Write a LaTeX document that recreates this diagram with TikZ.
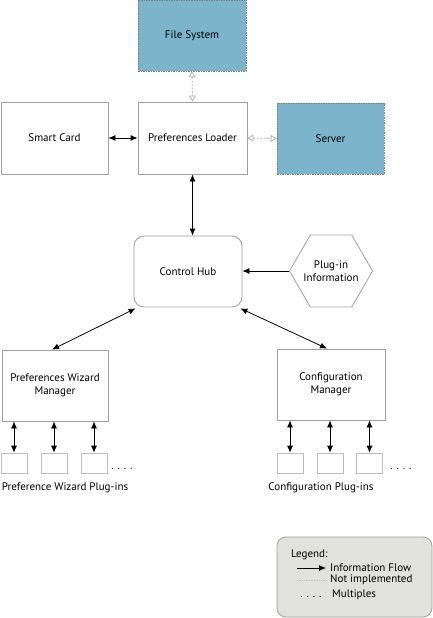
\documentclass[tikz,border=0pt]{standalone}
\usepackage{fontspec}
\setmainfont{PT Sans}
\usetikzlibrary{arrows.meta,shapes.geometric}
\definecolor{boxblue}{HTML}{7BB4CB}
\definecolor{legfill}{HTML}{E0E2DB}
\definecolor{edgegray}{HTML}{A0A0A0}
\begin{document}
\begin{tikzpicture}[x=1pt,y=-1pt,
  font=\fontsize{11}{13}\selectfont,
  plain/.style={draw=edgegray,line width=0.8pt,align=center,inner sep=0pt},
  notimpl/.style={draw=gray,dashed,dash pattern=on 1.5pt off 1pt,line width=0.6pt,fill=boxblue,align=center,inner sep=0pt},
  flow/.style={{Latex[length=7pt,width=6pt]}-{Latex[length=7pt,width=6pt]},line width=0.8pt},
  flowone/.style={-{Latex[length=7pt,width=6pt]},line width=0.8pt},
  niflow/.style={{Triangle[open,length=6pt,width=7pt]}-{Triangle[open,length=6pt,width=7pt]},draw=edgegray!80,dash pattern=on 2pt off 1.5pt,line width=0.8pt},
  plug/.style={draw=edgegray!70,line width=0.6pt,minimum width=26pt,minimum height=20pt,inner sep=0pt},
  dotsty/.style={inner sep=0pt}
]
\useasboundingbox (0,0) rectangle (433,618);
% top row
\node[notimpl,minimum width=108pt,minimum height=71pt] (fs) at (192,35.5) {File System};
\node[plain,minimum width=107pt,minimum height=72pt] (sc) at (54.5,138) {Smart Card};
\node[plain,minimum width=109pt,minimum height=72pt] (pl) at (192.5,138) {Preferences Loader};
\node[notimpl,minimum width=107pt,minimum height=71pt] (sv) at (330.5,138.5) {Server};
% middle
\node[plain,rounded corners=10pt,minimum width=108pt,minimum height=71pt] (ch) at (188,271.5) {Control Hub};
\node[plain,regular polygon,regular polygon sides=6,minimum size=83pt] (pi) at (331,271) {};
\node[align=center] (pit) at (331,271) {Plug-in\\Information};
% managers
\node[plain,minimum width=106pt,minimum height=71pt] (wm) at (55,385.5) {Preferences Wizard\\Manager};
\node[plain,minimum width=108pt,minimum height=71pt] (cm) at (331,384.5) {Configuration\\Manager};
% plug boxes
\node[plug] (w1) at (14,463) {};
\node[plug] (w2) at (54,463) {};
\node[plug] (w3) at (94,463) {};
\node[plug] (c1) at (290,463) {};
\node[plug] (c2) at (330,463) {};
\node[plug] (c3) at (369.5,463) {};
\node[dotsty] (wd) at (122,469) {. . . .};
\node[dotsty] (cd) at (401,469) {. . . .};
\node (wl) at (65,488) {Preference Wizard Plug-ins};
\node (cl) at (321,488) {Configuration Plug-ins};
% connectors
\draw[niflow] (fs.south) -- (pl.north);
\draw[niflow] (pl.east) -- (sv.west);
\draw[flow] (sc.east) -- (pl.west);
\draw[flow] (pl.south) -- (ch.north -| pl.south);
\draw[flowone] (pi.corner 3) -- (ch.east |- pi.corner 3);
\coordinate (chsw) at ([shift={(2pt,-1pt)}]ch.south west);
\coordinate (chse) at ([shift={(-2pt,-1pt)}]ch.south east);
\draw[flow] (chsw) -- ([xshift=-3pt]wm.north);
\draw[flow] (chse) -- ([xshift=-4pt]cm.north);
\draw[flow] (w1.north |- wm.south) -- (w1.north);
\draw[flow] (w2.north |- wm.south) -- (w2.north);
\draw[flow] (w3.north |- wm.south) -- (w3.north);
\draw[flow] (c1.north |- cm.south) -- (c1.north);
\draw[flow] (c2.north |- cm.south) -- (c2.north);
\draw[flow] (c3.north |- cm.south) -- (c3.north);
% legend
\node[draw=edgegray,fill=legfill,rounded corners=9pt,line width=0.8pt,minimum width=155pt,minimum height=80pt] (lg) at (354.5,577) {};
\node[anchor=west,inner sep=0pt] (lt) at (291,555) {Legend:};
\coordinate (la1) at (297,568);
\coordinate (la2) at (326,568);
\draw[flowone] (la1) -- (la2);
\node[anchor=west,inner sep=0pt] (lf) at (330,568) {Information Flow};
\coordinate (ln1) at (297,580);
\coordinate (ln2) at (326,580);
\draw[draw=edgegray!70,dash pattern=on 1pt off 0.7pt,line width=0.6pt] (ln1) -- (ln2);
\node[anchor=west,inner sep=0pt] (ln) at (330,580) {Not implemented};
\node[dotsty] (lm) at (311,597) {. . . .};
\node[anchor=west,inner sep=0pt] (lmt) at (332,595) {Multiples};
\end{tikzpicture}
\end{document}
